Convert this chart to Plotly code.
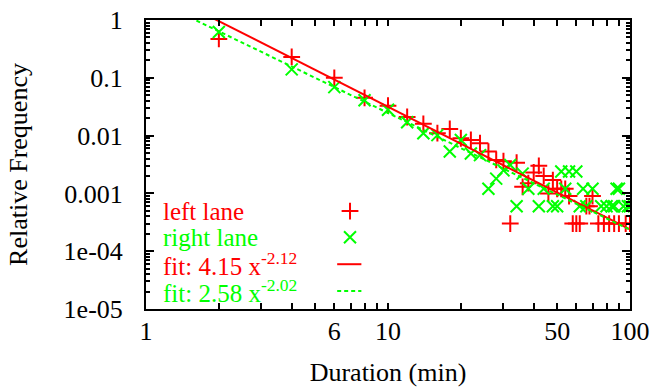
import plotly.graph_objects as go

# ---- data ----
left_x = [2, 4, 6, 8, 10, 12, 14, 16, 18, 20, 22, 24, 26, 28, 30, 32, 34, 36, 38, 40,
          42, 44, 46, 48, 50, 52, 54, 56, 58, 60, 62, 66, 68, 70, 74, 78, 82, 86, 90, 96, 100]
left_y = [0.47, 0.23, 0.10, 0.045, 0.033, 0.021, 0.016, 0.011, 0.013, 0.009, 0.0084, 0.0074,
          0.0053, 0.0038, 0.0036, 0.0003, 0.0034, 0.0013, 0.0015, 0.0023, 0.003, 0.002, 0.001,
          0.0017, 0.0012, 0.0012, 0.0012, 0.0009, 0.0003, 0.0003, 0.0003, 0.0006, 0.0006, 0.0009,
          0.0003, 0.0003, 0.0003, 0.0003, 0.0003, 0.0003, 0.0003]

right_x = [2, 4, 6, 8, 10, 12, 14, 16, 18, 20, 22, 24, 26, 28, 30, 32, 34, 36, 38, 42,
           44, 48, 50, 52, 54, 56, 60, 62, 64, 66, 70, 76, 80, 84, 86, 88, 90, 94, 98, 100]
right_y = [0.62, 0.14, 0.069, 0.041, 0.028, 0.017, 0.011, 0.0102, 0.0053, 0.0084, 0.0049, 0.0046,
           0.0012, 0.0018, 0.0025, 0.0031, 0.0006, 0.0022, 0.0012, 0.0006,
           0.0012, 0.0006, 0.0006, 0.0024, 0.0012, 0.0024, 0.0024, 0.0006, 0.0012, 0.0006, 0.0012,
           0.0006, 0.0006, 0.0006, 0.0006, 0.0012, 0.0012, 0.0006, 0.0006, 0.0006]

fit_left = (4.15, -2.12)
fit_right = (2.58, -2.02)
fit_x = [1, 100]

x_tickvals = [1, 6, 10, 50, 100]
x_ticktext = ["1", "6", "10", "50", "100"]
x_minor = [2, 3, 4, 5, 7, 8, 9, 20, 30, 40, 60, 70, 80, 90]
y_tickvals = [1e-5, 1e-4, 1e-3, 1e-2, 1e-1, 1]
y_ticktext = ["1e-05", "1e-04", "0.001", "0.01", "0.1", "1"]
y_minor = [m * 10.0 ** e for e in range(-5, 0) for m in range(2, 10)]

RED = "#ff0000"
GREEN = "#00ff00"
FONT = "Liberation Serif, Times New Roman, serif"
FS = 26

fig = go.Figure()
fig.add_trace(go.Scatter(x=left_x, y=left_y, mode="markers",
                         marker=dict(symbol="cross-thin", size=12, color=RED,
                                     line=dict(color=RED, width=2)), showlegend=False))
fig.add_trace(go.Scatter(x=right_x, y=right_y, mode="markers",
                         marker=dict(symbol="x-thin", size=12, color=GREEN,
                                     line=dict(color=GREEN, width=2)), showlegend=False))
fig.add_trace(go.Scatter(x=fit_x, y=[fit_left[0] * v ** fit_left[1] for v in fit_x], mode="lines",
                         line=dict(color=RED, width=2), showlegend=False))
fig.add_trace(go.Scatter(x=fit_x, y=[fit_right[0] * v ** fit_right[1] for v in fit_x], mode="lines",
                         line=dict(color=GREEN, width=2, dash="4px,3px"), showlegend=False))

# legend samples on an overlay axis (0..1 within the plot area)
fig.add_trace(go.Scatter(x=[0.4215], y=[0.339], xaxis="x2", yaxis="y2", mode="markers",
                         marker=dict(symbol="cross-thin", size=12, color=RED,
                                     line=dict(color=RED, width=2)), showlegend=False))
fig.add_trace(go.Scatter(x=[0.4215], y=[0.248], xaxis="x2", yaxis="y2", mode="markers",
                         marker=dict(symbol="x-thin", size=12, color=GREEN,
                                     line=dict(color=GREEN, width=2)), showlegend=False))
fig.add_trace(go.Scatter(x=[0.395, 0.445], y=[0.155, 0.155], xaxis="x2", yaxis="y2", mode="lines",
                         line=dict(color=RED, width=2), showlegend=False))
fig.add_trace(go.Scatter(x=[0.395, 0.445], y=[0.062, 0.062], xaxis="x2", yaxis="y2", mode="lines",
                         line=dict(color=GREEN, width=2, dash="4px,3px"), showlegend=False))

legend_items = [
    ("left lane", RED, 0.339),
    ("right lane", GREEN, 0.248),
    ("fit: 4.15 x<sup>-2.12</sup>", RED, 0.155),
    ("fit: 2.58 x<sup>-2.02</sup>", GREEN, 0.062),
]
annotations = []
for txt, col, yy in legend_items:
    annotations.append(dict(text=txt, x=0.03, y=yy, xref="x2", yref="y2",
                            xanchor="left", yanchor="middle", showarrow=False,
                            font=dict(family=FONT, size=25, color=col)))

axis_common = dict(showline=True, linecolor="black", linewidth=2, mirror="ticks",
                   ticks="inside", tickcolor="black", tickwidth=1.5, showgrid=False,
                   zeroline=False, automargin=False,
                   tickfont=dict(family=FONT, size=FS, color="black"))

fig.update_layout(
    width=666, height=387,
    margin=dict(l=146, r=36, t=20, b=78),
    paper_bgcolor="white", plot_bgcolor="white",
    font=dict(family=FONT, size=FS, color="black"),
    xaxis=dict(type="log", range=[0, 2], tickvals=x_tickvals, ticktext=x_ticktext,
               ticklen=6, ticklabelstandoff=-2,
               minor=dict(tickvals=x_minor, ticks="inside", ticklen=6, tickcolor="black", tickwidth=1.5),
               title=dict(text="Duration (min)", font=dict(family=FONT, size=FS), standoff=26),
               **axis_common),
    yaxis=dict(type="log", range=[-5, 0], tickvals=y_tickvals, ticktext=y_ticktext,
               ticklen=8, ticklabelstandoff=16,
               minor=dict(tickvals=y_minor, ticks="inside", ticklen=4, tickcolor="black", tickwidth=1.5),
               title=dict(text="Relative Frequency", font=dict(family=FONT, size=FS), standoff=28),
               **axis_common),
    xaxis2=dict(overlaying="x", range=[0, 1], visible=False, fixedrange=True),
    yaxis2=dict(overlaying="y", range=[0, 1], visible=False, fixedrange=True),
    annotations=annotations,
)

fig.write_html("out.html")
